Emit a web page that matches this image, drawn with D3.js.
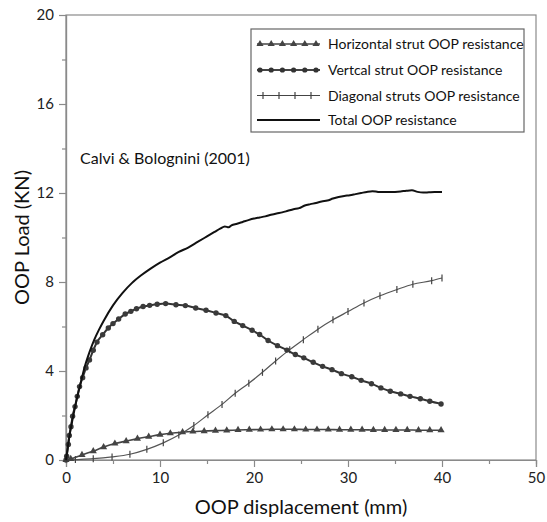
<!DOCTYPE html>
<html><head><meta charset="utf-8">
<script src="https://cdn.jsdelivr.net/npm/d3@7"></script>
<style>body{margin:0;background:#fff}svg{display:block}text{font-family:Lato,"Open Sans",sans-serif}</style>
</head><body><svg id="c" width="547" height="522"></svg>
<script>
// ---- data ----
const xTicks = [0, 10, 20, 30, 40, 50];
const yTicks = [0, 4, 8, 12, 16, 20];
const seriesNames = ["Horizontal strut OOP resistance", "Vertcal strut OOP resistance", "Diagonal struts OOP resistance", "Total OOP resistance"];
const annotation = "Calvi & Bolognini (2001)";

const horizD = [0, 0.5, 1.7, 2.9, 4.0, 5.2, 6.4, 7.6, 8.8, 10.0, 11.1, 12.4, 13.5, 14.7, 15.9, 17.1, 18.3, 19.5, 20.7, 21.9, 23.1, 24.3, 25.5, 26.7, 27.9, 29.1, 30.3, 31.5, 32.7, 33.9, 35.1, 36.3, 37.5, 38.7, 39.9];
const horizV = [0, 0.05, 0.23, 0.4, 0.58, 0.74, 0.85, 0.96, 1.05, 1.14, 1.2, 1.25, 1.28, 1.3, 1.32, 1.33, 1.35, 1.36, 1.37, 1.38, 1.38, 1.38, 1.37, 1.37, 1.37, 1.36, 1.36, 1.36, 1.35, 1.35, 1.35, 1.35, 1.34, 1.34, 1.34];

const vertD = [0, 0.07, 0.25, 0.35, 0.53, 0.7, 0.96, 1.2, 1.44, 1.77, 2.13, 2.5, 2.9, 3.3, 3.9, 4.5, 5.0, 5.6, 6.3, 6.9, 7.5, 8.2, 8.9, 9.7, 10.6, 11.7, 12.7, 13.8, 14.9, 15.96, 17.0, 17.9, 18.8, 19.8, 20.6, 21.5, 22.5, 23.5, 24.4, 25.3, 26.3, 27.3, 28.3, 29.3, 30.4, 31.4, 32.5, 33.5, 34.5, 35.6, 36.6, 37.7, 38.7, 39.9];
const vertV = [0, 0.17, 0.7, 1.1, 1.5, 1.97, 2.4, 2.86, 3.3, 3.7, 4.14, 4.5, 4.93, 5.3, 5.63, 5.93, 6.13, 6.34, 6.56, 6.68, 6.8, 6.9, 6.95, 7.0, 7.03, 6.98, 6.94, 6.83, 6.73, 6.61, 6.49, 6.23, 6.04, 5.83, 5.64, 5.37, 5.14, 4.94, 4.74, 4.59, 4.39, 4.21, 4.06, 3.88, 3.74, 3.58, 3.43, 3.24, 3.09, 2.97, 2.86, 2.75, 2.64, 2.52];

const diagD = [0, 1.0, 2.9, 4.9, 6.8, 8.6, 10.35, 12.0, 13.6, 15.1, 16.6, 18.0, 19.45, 20.9, 22.3, 23.8, 25.25, 26.8, 28.4, 30.0, 31.7, 33.4, 35.2, 36.9, 38.9, 40.0];
const diagV = [0, 0.02, 0.06, 0.14, 0.26, 0.48, 0.77, 1.12, 1.55, 2.03, 2.5, 3.0, 3.45, 3.94, 4.45, 4.96, 5.41, 5.88, 6.3, 6.67, 7.06, 7.38, 7.66, 7.9, 8.06, 8.18];

const totalD = [0, 0.1, 0.3, 0.5, 0.8, 1.1, 1.5, 2.0, 2.5, 3.0, 3.5, 4.0, 5.0, 6.0, 7.0, 8.0, 9.0, 10.0, 11.0, 12.0, 13.0, 14.0, 15.0, 15.8, 16.4, 16.9, 17.3, 17.6, 18.2, 18.8, 19.4, 20.0, 20.6, 21.2, 21.8, 22.4, 23.0, 23.6, 24.2, 24.8, 25.4, 26.0, 26.6, 27.2, 27.8, 28.4, 29.0, 29.6, 30.2, 30.8, 31.4, 32.0, 32.6, 33.2, 33.8, 34.4, 35.0, 35.6, 36.2, 36.8, 37.4, 38.0, 38.6, 39.2, 40.0];
const totalV = [0, 0.3, 0.9, 1.4, 2.05, 2.65, 3.35, 4.2, 4.85, 5.4, 5.85, 6.25, 6.95, 7.5, 7.95, 8.3, 8.6, 8.87, 9.1, 9.35, 9.55, 9.8, 10.05, 10.25, 10.4, 10.5, 10.46, 10.55, 10.62, 10.7, 10.78, 10.85, 10.9, 10.95, 11.02, 11.08, 11.13, 11.2, 11.27, 11.32, 11.44, 11.5, 11.55, 11.62, 11.66, 11.75, 11.82, 11.87, 11.9, 11.95, 12.0, 12.05, 12.08, 12.05, 12.04, 12.04, 12.05, 12.07, 12.1, 12.12, 12.05, 12.02, 12.03, 12.04, 12.04];

// ---- chart ----
const svg = d3.select("#c");
const L = 66, R = 536, T = 15, B = 460;
const x = d3.scaleLinear().domain([0, 50]).range([L, R]);
const y = d3.scaleLinear().domain([0, 20]).range([B, T]);
const axisCol = "#8a8a8a";

// frame
svg.append("rect").attr("x", L).attr("y", T).attr("width", R - L).attr("height", B - T)
  .attr("fill", "none").attr("stroke", axisCol).attr("stroke-width", 1.2);

// minor ticks
const gxm = svg.append("g").attr("transform", `translate(0,${B})`)
  .call(d3.axisBottom(x).tickValues([5, 15, 25, 35, 45]).tickSize(4).tickFormat(""));
const gym = svg.append("g").attr("transform", `translate(${L},0)`)
  .call(d3.axisLeft(y).tickValues([2, 6, 10, 14, 18]).tickSize(4).tickFormat(""));
// major ticks
const gx = svg.append("g").attr("transform", `translate(0,${B})`)
  .call(d3.axisBottom(x).tickValues(xTicks).tickSize(7).tickPadding(5));
const gy = svg.append("g").attr("transform", `translate(${L},0)`)
  .call(d3.axisLeft(y).tickValues(yTicks).tickSize(7).tickPadding(5));
[gxm, gym, gx, gy].forEach(g => {
  g.select(".domain").attr("stroke", axisCol).attr("stroke-width", 1.2);
  g.selectAll(".tick line").attr("stroke", axisCol).attr("stroke-width", 1.2);
  g.selectAll(".tick text").attr("fill", "#222").style("font-size", "15px").style("font-family", "Lato");
});

// axis titles
svg.append("text").attr("x", (L + R) / 2).attr("y", 514).attr("text-anchor", "middle")
  .style("font-size", "20px").attr("fill", "#111").text("OOP displacement (mm)");
svg.append("text").attr("transform", `translate(29,${(T + B) / 2}) rotate(-90)`).attr("text-anchor", "middle")
  .style("font-size", "20px").attr("fill", "#111").text("OOP Load (KN)");

const line = d3.line().x(d => x(d[0])).y(d => y(d[1])).curve(d3.curveMonotoneX);
const zipd = (a, b) => a.map((v, i) => [v, b[i]]);
const hData = zipd(horizD, horizV), vData = zipd(vertD, vertV), dData = zipd(diagD, diagV), tData = zipd(totalD, totalV);

// diagonal
svg.append("path").datum(dData).attr("d", line).attr("fill", "none").attr("stroke", "#555").attr("stroke-width", 1.2);
svg.append("g").selectAll("line").data(dData.slice(1)).join("line")
  .attr("x1", d => x(d[0])).attr("x2", d => x(d[0]))
  .attr("y1", d => y(d[1]) - 3.5).attr("y2", d => y(d[1]) + 3.5)
  .attr("stroke", "#444").attr("stroke-width", 1.2);

// horizontal
svg.append("path").datum(hData).attr("d", line).attr("fill", "none").attr("stroke", "#444").attr("stroke-width", 1.6);
const tri = d3.symbol().type(d3.symbolTriangle).size(22);
svg.append("g").selectAll("path").data(hData).join("path")
  .attr("d", tri).attr("transform", d => `translate(${x(d[0])},${y(d[1])})`).attr("fill", "#444");

// vertical
svg.append("path").datum(vData).attr("d", line).attr("fill", "none").attr("stroke", "#333").attr("stroke-width", 2);
svg.append("g").selectAll("circle").data(vData).join("circle")
  .attr("cx", d => x(d[0])).attr("cy", d => y(d[1])).attr("r", 2.7).attr("fill", "#3a3a3a");

// total
svg.append("path").datum(tData).attr("d", line).attr("fill", "none").attr("stroke", "#111").attr("stroke-width", 2);

// annotation
svg.append("text").attr("x", 80).attr("y", 164).style("font-size", "16px").attr("fill", "#111").text(annotation);

// legend
const lg = svg.append("g");
lg.append("rect").attr("x", 251).attr("y", 29).attr("width", 273).attr("height", 103)
  .attr("fill", "#fff").attr("stroke", "#666").attr("stroke-width", 1.2);
const rowY = [44, 70, 95.5, 120];
const lx0 = 257, lx1 = 320;
seriesNames.forEach((name, i) => {
  const yy = rowY[i];
  lg.append("text").attr("x", 328).attr("y", yy + 5).style("font-size", "14px").attr("fill", "#111").text(name);
  lg.append("line").attr("x1", lx0).attr("x2", lx1).attr("y1", yy).attr("y2", yy)
    .attr("stroke", i === 3 ? "#111" : "#444").attr("stroke-width", [1.6, 2, 1.2, 2][i]);
  const mk = d3.range(6).map(k => lx0 + 3 + k * 11.2);
  if (i === 0) lg.selectAll(null).data(mk).join("path").attr("d", tri).attr("transform", m => `translate(${m},${yy})`).attr("fill", "#444");
  if (i === 1) lg.selectAll(null).data(mk).join("circle").attr("cx", m => m).attr("cy", yy).attr("r", 2.6).attr("fill", "#333");
  if (i === 2) lg.selectAll(null).data([263, 279, 295, 311]).join("line").attr("x1", m => m).attr("x2", m => m)
    .attr("y1", yy - 3.5).attr("y2", yy + 3.5).attr("stroke", "#444").attr("stroke-width", 1.2);
});
</script></body></html>
